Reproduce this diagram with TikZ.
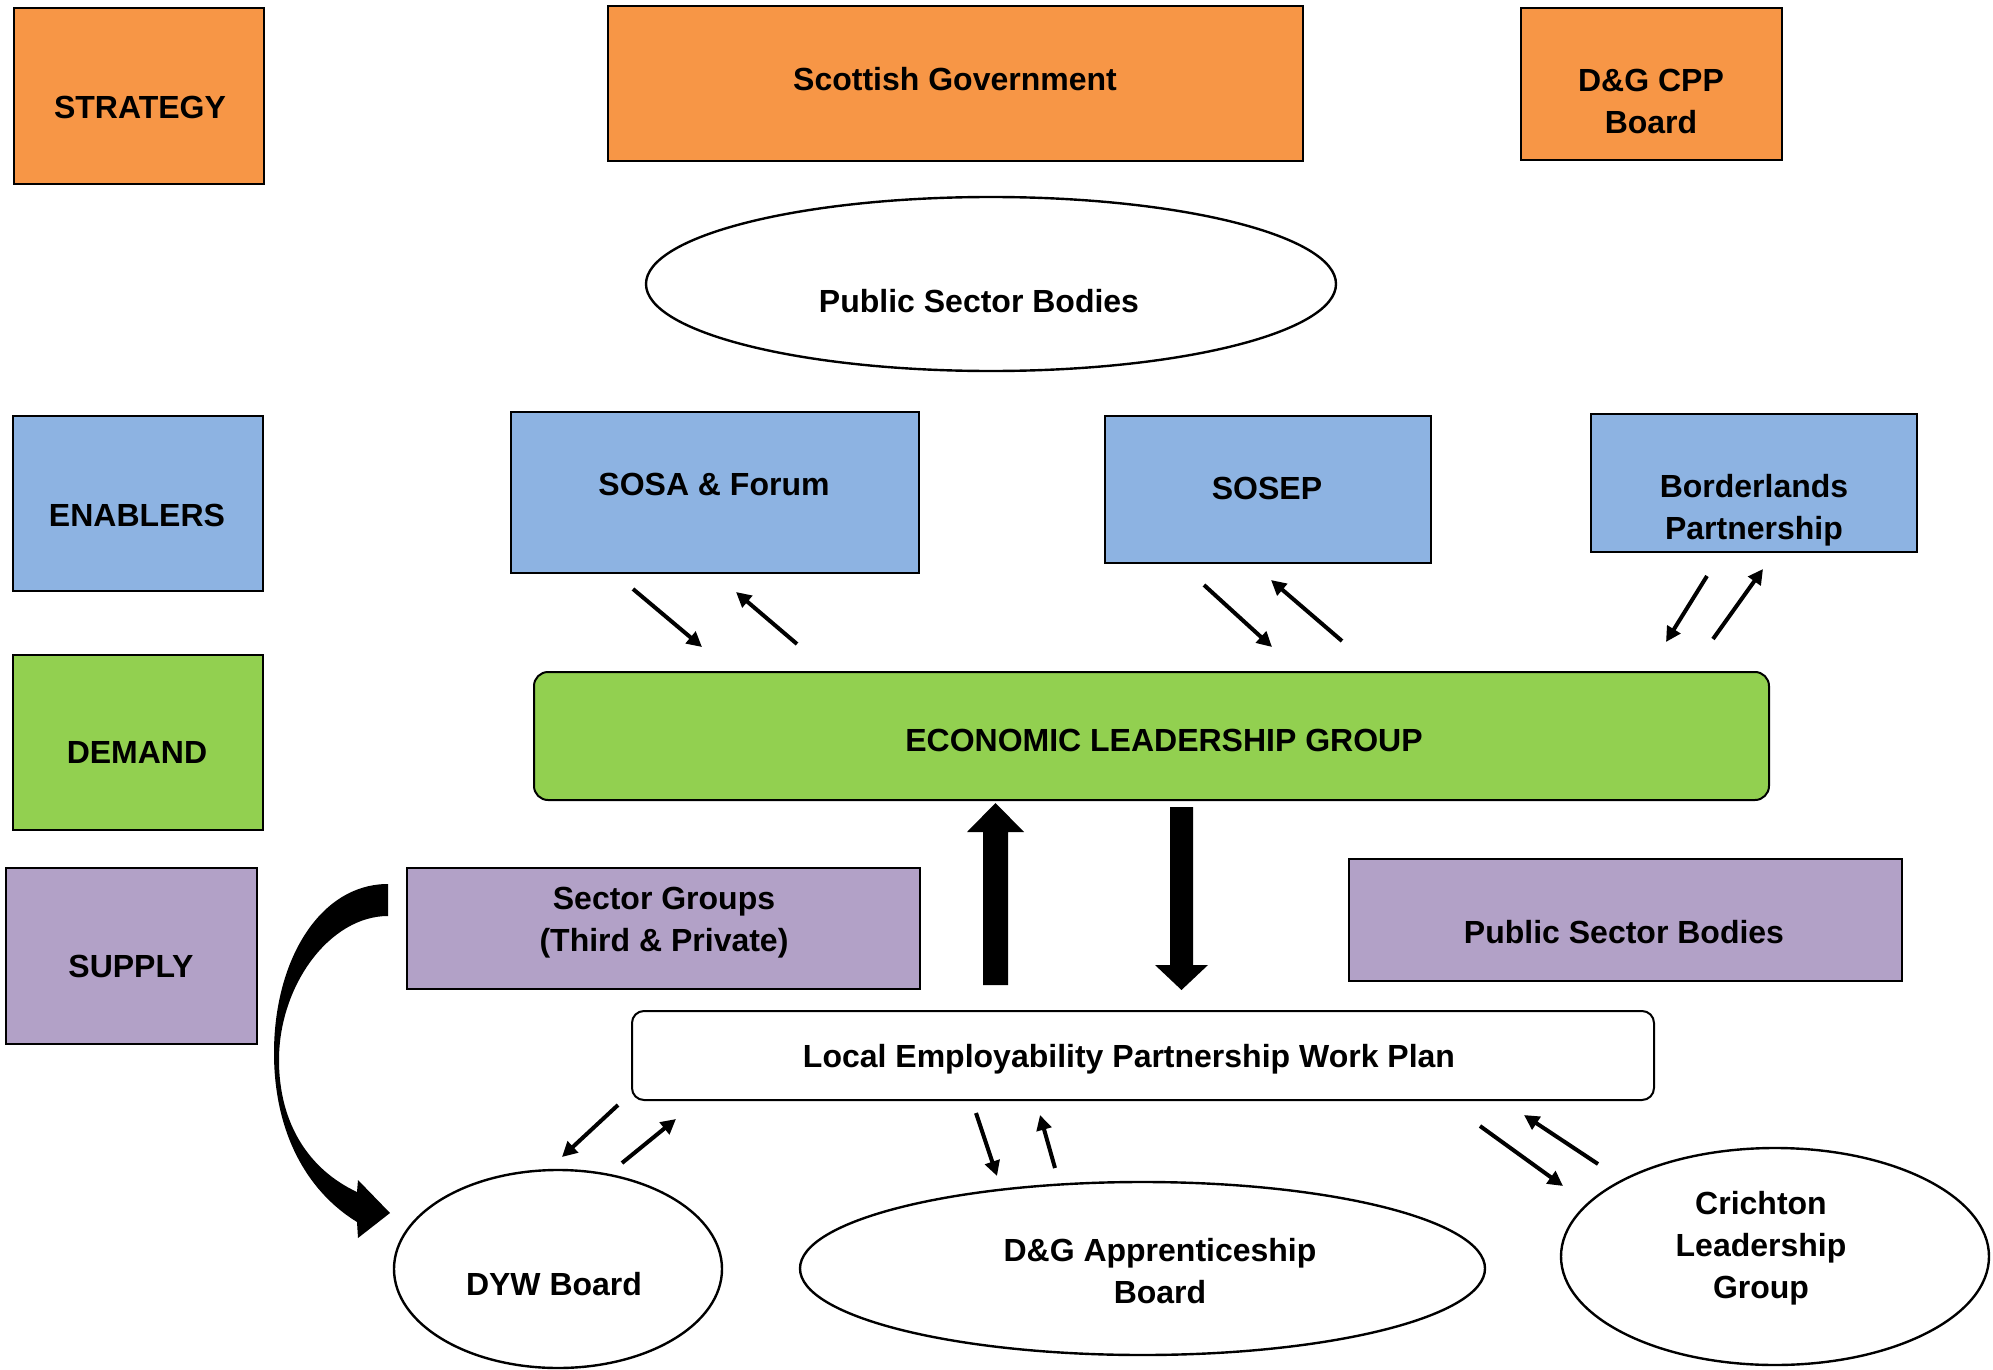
\documentclass[tikz,border=0pt]{standalone}
\usepackage{fontspec}
\setmainfont{Liberation Sans}
\usetikzlibrary{shapes.geometric,arrows.meta}
\definecolor{stratcol}{HTML}{F79646}
\definecolor{enabcol}{HTML}{8DB3E2}
\definecolor{demcol}{HTML}{92D050}
\definecolor{suppcol}{HTML}{B2A1C7}

\tikzset{
  sz/.style 2 args={minimum width=#1*0.5pt, minimum height=#2*0.5pt},
  box/.style={rectangle, draw=black, line width=0.9pt, inner sep=0pt},
  obox/.style={box, fill=stratcol},
  bbox/.style={box, fill=enabcol},
  gbox/.style={box, fill=demcol},
  pbox/.style={box, fill=suppcol},
  oval/.style={ellipse, draw=black, line width=1.2pt, inner sep=0pt, fill=white},
  txt/.style={font=\fontsize{16pt}{21pt}\selectfont\bfseries, align=center, inner sep=0pt},
  link/.style={line width=2pt, -{Triangle[length=7.5pt,width=7.5pt]}},
}

\begin{document}
\begin{tikzpicture}[x=0.5pt,y=-0.5pt]
\useasboundingbox (0,0) rectangle (1993,1370);

% ---- left-hand legend column
\node[obox, sz={250}{176}] (strategy) at (139,96) {};
\node[txt] (strategy-t) at (140,107) {STRATEGY};
\node[bbox, sz={250}{175}] (enablers) at (138,503.5) {};
\node[txt] (enablers-t) at (137,515) {ENABLERS};
\node[gbox, sz={250}{175}] (demand) at (138,742.5) {};
\node[txt] (demand-t) at (137,752) {DEMAND};
\node[pbox, sz={251}{176}] (supply) at (131.5,956) {};
\node[txt] (supply-t) at (131,966) {SUPPLY};

% ---- strategy tier
\node[obox, sz={695}{155}] (scotgov) at (955.5,83.5) {};
\node[txt] (scotgov-t) at (955,79) {Scottish Government};
\node[obox, sz={261}{152}] (cpp) at (1651.5,84) {};
\node[txt] (cpp-t) at (1651,101) {D\&G CPP\\Board};
\node[oval, sz={690}{174}] (psb-top) at (991,284) {};
\node[txt] (psb-top-t) at (979,301) {Public Sector Bodies};

% ---- enablers tier
\node[bbox, sz={408}{161}] (sosa) at (715,492.5) {};
\node[txt] (sosa-t) at (714,484) {SOSA \& Forum};
\node[bbox, sz={326}{147}] (sosep) at (1268,489.5) {};
\node[txt] (sosep-t) at (1267,488) {SOSEP};
\node[bbox, sz={326}{138}] (border) at (1754,483) {};
\node[txt] (border-t) at (1754,510) {Borderlands\\Partnership};

% ---- demand tier
\node[gbox, rounded corners=7pt, line width=1pt, sz={1235}{128}] (elg) at (1151.5,736) {};
\node[txt] (elg-t) at (1164,740) {ECONOMIC LEADERSHIP GROUP};

% ---- supply tier
\node[pbox, sz={513}{121}] (sector) at (663.5,928.5) {};
\node[txt] (sector-t) at (664,923) {Sector Groups\\(Third \& Private)};
\node[pbox, sz={553}{122}] (psb-sup) at (1625.5,920) {};
\node[txt] (psb-sup-t) at (1624,932) {Public Sector Bodies};

\node[box, fill=white, rounded corners=6pt, line width=1pt, sz={1022}{89}] (lep) at (1143,1055.5) {};
\node[txt] (lep-t) at (1129,1059) {Local Employability Partnership Work Plan};

\node[oval, sz={328}{198}] (dyw) at (558,1269) {};
\node[txt] (dyw-t) at (554,1284) {DYW Board};
\node[oval, sz={685}{173}] (appr) at (1142.5,1268.5) {};
\node[txt] (appr-t) at (1160,1271) {D\&G Apprenticeship\\Board};
\node[oval, sz={428}{217}] (crich) at (1775,1256.5) {};
\node[txt] (crich-t) at (1761,1248) {Crichton\\Leadership\\Group};

% ---- two-way links between enablers and the leadership group
\coordinate (sosa-a1) at (633,589);   \coordinate (sosa-b1) at (702,647);
\coordinate (sosa-a2) at (797,644);   \coordinate (sosa-b2) at (736,592);
\coordinate (sosep-a1) at (1204,585); \coordinate (sosep-b1) at (1272,647);
\coordinate (sosep-a2) at (1342,641); \coordinate (sosep-b2) at (1271,580);
\coordinate (bord-a1) at (1707,576);  \coordinate (bord-b1) at (1666,642);
\coordinate (bord-a2) at (1713,639);  \coordinate (bord-b2) at (1763,569);
\draw[link] (sosa-a1) -- (sosa-b1);
\draw[link] (sosa-a2) -- (sosa-b2);
\draw[link] (sosep-a1) -- (sosep-b1);
\draw[link] (sosep-a2) -- (sosep-b2);
\draw[link] (bord-a1) -- (bord-b1);
\draw[link] (bord-a2) -- (bord-b2);

% ---- two-way links between the work plan and the delivery groups
\coordinate (dyw-a1) at (618,1105);   \coordinate (dyw-b1) at (562,1157);
\coordinate (dyw-a2) at (622,1163);   \coordinate (dyw-b2) at (676,1119);
\coordinate (appr-a1) at (976,1113);  \coordinate (appr-b1) at (997,1176);
\coordinate (appr-a2) at (1055,1168); \coordinate (appr-b2) at (1040,1115);
\coordinate (cr-a1) at (1480,1126);   \coordinate (cr-b1) at (1563,1186);
\coordinate (cr-a2) at (1598,1164);   \coordinate (cr-b2) at (1524,1115);
\draw[link] (dyw-a1) -- (dyw-b1);
\draw[link] (dyw-a2) -- (dyw-b2);
\draw[link] (appr-a1) -- (appr-b1);
\draw[link] (appr-a2) -- (appr-b2);
\draw[link] (cr-a1) -- (cr-b1);
\draw[link] (cr-a2) -- (cr-b2);

% ---- block arrows between the work plan and the leadership group
\fill (983,985) -- (983,832) -- (967,832) -- (995.5,803) -- (1024,832)
      -- (1008,832) -- (1008,985) -- cycle;
\fill (1170,807) -- (1170,965) -- (1155,965) -- (1181.5,990) -- (1208,965)
      -- (1193,965) -- (1193,807) -- cycle;

% ---- curved arrow from the sector groups round to the DYW board
\fill (388,884) .. controls (320,884) and (274,960) .. (274,1053)
      .. controls (274,1130) and (305,1190) .. (357,1222)
      -- (358,1238) -- (390,1213) -- (358,1180) -- (357,1192)
      .. controls (310,1170) and (279,1125) .. (279,1060)
      .. controls (279,985) and (330,916) .. (388,916) -- cycle;
\end{tikzpicture}
\end{document}
